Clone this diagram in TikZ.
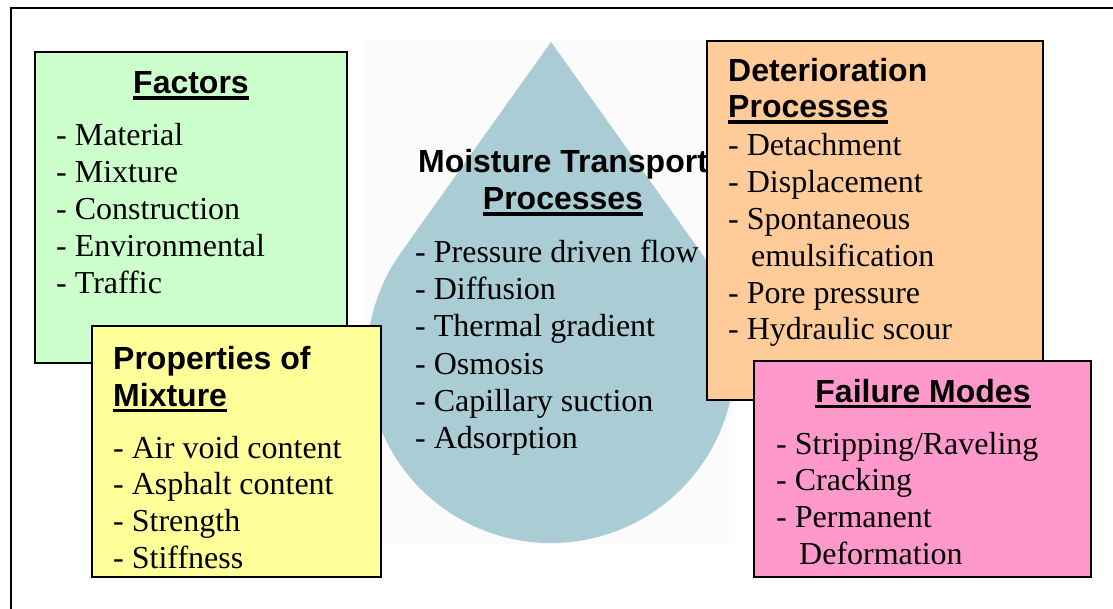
\documentclass[tikz,border=0pt]{standalone}
\usepackage{fontspec}
\setmainfont{Liberation Serif}
\setsansfont{Liberation Sans}
\definecolor{factorgreen}{RGB}{204,255,204}
\definecolor{mixyellow}{RGB}{255,255,153}
\definecolor{deterorange}{RGB}{255,204,153}
\definecolor{failpink}{RGB}{255,153,204}
\definecolor{dropblue}{RGB}{170,204,213}
\definecolor{haze}{RGB}{251,251,251}
\newcommand{\undertitle}[1]{\setbox0\hbox{#1}\rlap{\rule[-6pt]{\wd0}{3.5pt}}\box0}
\tikzset{
  panel/.style={draw=black,line width=1.8pt,inner sep=0pt,outer sep=0pt,anchor=north west},
  head/.style={font=\fontsize{32}{37}\selectfont\sffamily\bfseries,inner sep=0pt},
  item/.style={font=\fontsize{32}{37}\selectfont,inner sep=0pt,anchor=base west}
}

\begin{document}
\begin{tikzpicture}[x=1pt,y=-1pt]
  \useasboundingbox (0,0) rectangle (1113,609);
  \clip (0,0) rectangle (1113,609);
  \draw[line width=1.8pt] (11,8) rectangle (1140,640);
  \fill[haze] (365,40) rectangle (735,545);
  \coordinate (tip) at (551,42);
  \fill[dropblue] (tip) -- (401.2,252.2) arc[start angle=215.5,end angle=-35.5,radius=184] -- cycle;
  \node[head,anchor=base] (moisthead) at (563,173) {Moisture Transport};
  \node[head,anchor=base] (moisthead2) at (563,210) {\undertitle{Processes}};
  \foreach \t [count=\i] in {Pressure driven flow,Diffusion,Thermal gradient,Osmosis,Capillary suction,Adsorption}
    \node[item] (moist\i) at (415,{263+37*(\i-1)}) {- \t};

  \node[panel,fill=factorgreen,minimum width=312pt,minimum height=311pt] (factors) at (35,52) {};
  \node[head,anchor=base] (factorhead) at (191,94) {\undertitle{Factors}};
  \foreach \t [count=\i] in {Material,Mixture,Construction,Environmental,Traffic}
    \node[item] (factor\i) at (56,{146+36.8*(\i-1)}) {- \t};

  \node[panel,fill=mixyellow,minimum width=289pt,minimum height=251pt] (props) at (92,326) {};
  \node[head,anchor=base west] (prophead) at (113,369) {Properties of};
  \node[head,anchor=base west] (prophead2) at (113,406) {\undertitle{Mixture}};
  \foreach \t [count=\i] in {Air void content,Asphalt content,Strength,Stiffness}
    \node[item] (prop\i) at (113,{458+36.8*(\i-1)}) {- \t};

  \node[panel,fill=deterorange,minimum width=336pt,minimum height=359pt] (deter) at (707,41) {};
  \node[head,anchor=base west] (deterhead) at (728,82) {Deterioration};
  \node[head,anchor=base west] (deterhead2) at (728,118) {\undertitle{Processes}};
  \foreach \t [count=\i] in {Detachment,Displacement,Spontaneous}
    \node[item] (deter\i) at (728,{156+36.8*(\i-1)}) {- \t};
  \node[item] (deter3b) at (751,266.4) {emulsification};
  \foreach \t [count=\i from 4] in {Pore pressure,Hydraulic scour}
    \node[item] (deter\i) at (728,{156+36.8*(\i-0)}) {- \t};

  \node[panel,fill=failpink,minimum width=337pt,minimum height=216pt] (failure) at (754,361) {};
  \node[head,anchor=base] (failhead) at (923,402) {\undertitle{Failure Modes}};
  \foreach \t [count=\i] in {{Stripping/Raveling},Cracking,Permanent}
    \node[item] (fail\i) at (776,{454+36.8*(\i-1)}) {- \t};
  \node[item] (fail3b) at (799,564.4) {Deformation};
\end{tikzpicture}
\end{document}
